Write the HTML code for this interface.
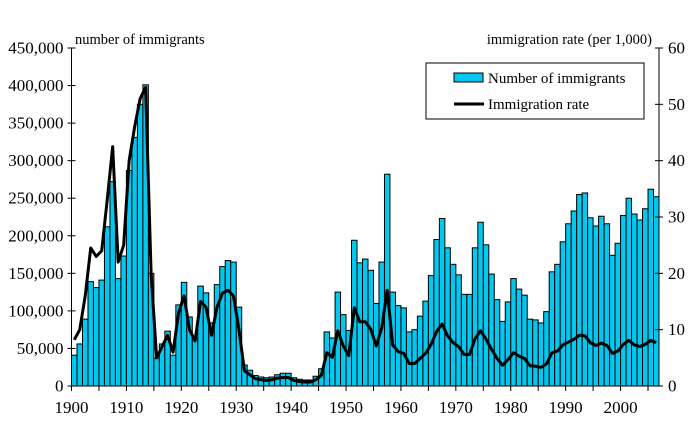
<!DOCTYPE html>
<html><head><meta charset="utf-8"><style>
body{margin:0;background:#fff}
svg{display:block;font-family:"Liberation Serif",serif}
</style></head><body>
<svg id="c" width="699" height="430" xmlns="http://www.w3.org/2000/svg"></svg>
<script>
const imm=[41,56,89,139,131,141,212,272,143,173,287,331,375,401,150,37,56,73,41,108,138,92,64,133,124,84,135,159,167,165,105,28,21,14,12,11,12,15,17,17,11,9,8,8,13,23,72,64,125,95,74,194,164,169,154,110,165,282,125,107,104,72,75,93,113,147,195,223,184,162,148,122,122,184,218,188,149,115,86,112,143,129,121,89,88,84,99,152,162,192,216,233,255,257,224,213,226,216,174,190,227,250,229,221,236,262,252];
const rate=[8.2,10,16,24.5,23,24,33,42.5,22,25,40,46,51,53,20,5,7,9,6,13,16,10,8,15,14,9,14,16.5,17,16,10,2.7,2,1.3,1.1,1,1.1,1.4,1.5,1.5,1,0.8,0.7,0.7,1.1,1.9,5.9,5.1,9.8,7.1,5.4,13.9,11.4,11.4,10.1,7.1,10.3,17,7.3,6.1,5.8,4,4,4.9,5.8,7.4,9.7,11,8.9,7.7,7,5.6,5.6,8.4,9.8,8.3,6.5,4.9,3.7,4.7,5.9,5.3,4.9,3.6,3.5,3.3,3.9,5.9,6.2,7.3,7.8,8.3,9,8.9,7.7,7.2,7.6,7.2,5.8,6.2,7.4,8.1,7.3,7,7.4,8.1,7.7];
const L=71.5,R=659,T=48,B=386,n=107,w=(R-L)/n;
let s='';
for(let i=0;i<n;i++){const h=imm[i]/450*(B-T);s+=`<rect x="${(L+i*w).toFixed(2)}" y="${(B-h).toFixed(2)}" width="${w.toFixed(2)}" height="${h.toFixed(2)}" fill="#00c8f0" stroke="#000" stroke-width="1"/>`;}
let p='';for(let i=0;i<n;i++){p+=(i?'L':'M')+(L+(i+0.5)*w).toFixed(2)+','+(B-rate[i]/60*(B-T)).toFixed(2);}
s+=`<path d="${p}" fill="none" stroke="#000" stroke-width="3" stroke-linejoin="round"/>`;
s+=`<line x1="${L}" y1="${T}" x2="${L}" y2="${B}" stroke="#000"/><line x1="${R}" y1="${T}" x2="${R}" y2="${B}" stroke="#000"/><line x1="${L}" y1="${B}" x2="${R}" y2="${B}" stroke="#000"/>`;
for(let k=0;k<=9;k++){const y=B-k*(B-T)/9;s+=`<line x1="${L-4}" y1="${y}" x2="${L+4}" y2="${y}" stroke="#000"/><text x="${L-8}" y="${y+5.5}" font-size="17" text-anchor="end">${k==0?'0':(k*50)+',000'}</text>`;}
for(let k=0;k<=6;k++){const y=B-k*(B-T)/6;s+=`<line x1="${R-4}" y1="${y}" x2="${R+4}" y2="${y}" stroke="#000"/><text x="${R+9}" y="${y+5.5}" font-size="17">${k*10}</text>`;}
for(let yr=1900;yr<=2006;yr+=5){const x=L+(yr-1900)*w;s+=`<line x1="${x}" y1="${B}" x2="${x}" y2="${B+5}" stroke="#000"/>`;if(yr%10==0)s+=`<text x="${x}" y="${B+27}" font-size="17" text-anchor="middle">${yr}</text>`;}
s+=`<text x="75" y="44" font-size="14.5">number of immigrants</text><text x="652" y="44" font-size="14.5" text-anchor="end">immigration rate (per 1,000)</text>`;
s+=`<rect x="426" y="63" width="218" height="56" fill="#fff" stroke="#000"/><rect x="454" y="73" width="29" height="9" fill="#00c8f0" stroke="#000"/><text x="488" y="83" font-size="15">Number of immigrants</text><line x1="454" y1="104" x2="484" y2="104" stroke="#000" stroke-width="3"/><text x="488" y="109" font-size="15">Immigration rate</text>`;
document.getElementById('c').innerHTML=s;
</script>
</body></html>
